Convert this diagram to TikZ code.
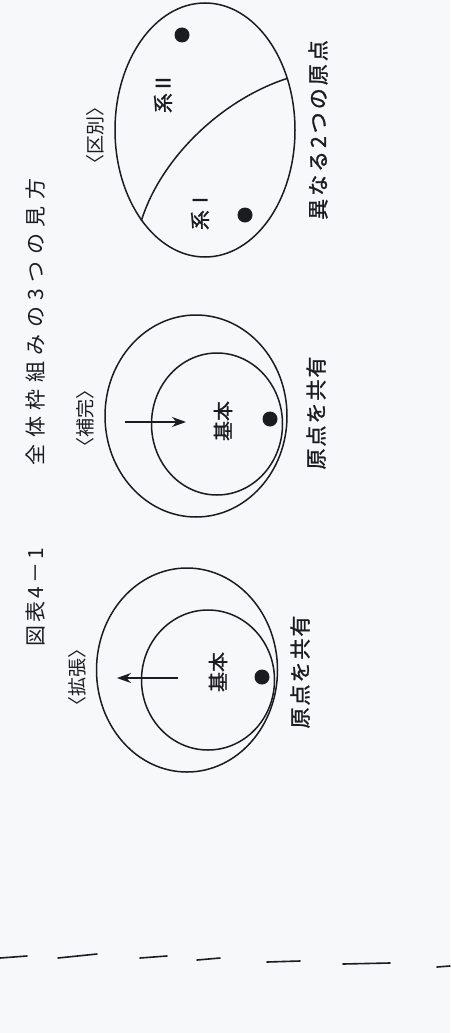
\documentclass[tikz,border=0pt]{standalone}
\usepackage{fontspec}
\setmainfont{Noto Sans CJK JP}
\newfontfamily\heavyjp[FakeBold=1.2]{Noto Sans CJK JP}
\usetikzlibrary{shapes.geometric,arrows.meta}
\definecolor{paper}{RGB}{247,248,250}
\definecolor{ink}{RGB}{28,28,32}
\makeatletter
\def\ltrsp#1#2{\def\ltrsp@k{\kern#1}\ltrsp@first#2\relax}
\def\ltrsp@first#1{#1\ltrsp@i}
\def\ltrsp@i#1{\ifx\relax#1\else\ltrsp@k#1\expandafter\ltrsp@i\fi}
\makeatother
\begin{document}
\begin{tikzpicture}[x=1pt,y=-1pt,
  txt/.style={rotate=90, inner sep=0pt, text=ink},
  ttl/.style={txt, font=\fontsize{21pt}{21pt}\selectfont},
  lbl/.style={txt, font=\fontsize{19pt}{19pt}\selectfont},
  captxt/.style={txt, font=\heavyjp\fontsize{21pt}{21pt}\selectfont},
  inn/.style={txt, font=\heavyjp\fontsize{20pt}{20pt}\selectfont},
  ring/.style={draw=ink, line width=1.5pt, ellipse, inner sep=0pt},
  dot/.style={circle, fill=ink, inner sep=0pt, minimum size=15pt},
  arr/.style={draw=ink, line width=1.5pt, -{Stealth[length=14pt,width=10pt]}},
  cutmark/.style={draw=ink, line width=1.6pt, line cap=round}]
\fill[paper] (0,0) rectangle (450,1033);
\useasboundingbox (0,0) rectangle (450,1033);

% title
\node[ttl] (t1) at (36,597) {\ltrsp{3pt}{図表4－1}};
\node[ttl] (t2) at (36,322) {\ltrsp{6.5pt}{全体枠組みの3つの見方}};

% ---- 区別 ----
\node[lbl] (l3) at (95,135) {〈区別〉};
\node[ring, minimum width=180pt, minimum height=254pt] (E3) at (205,130) {};
\draw[draw=ink, line width=1.5pt] (E3.235) .. controls (160,160) and (220,100) .. (E3.32);
\node[dot] (d1) at (182,35) {};
\node[dot] (d2) at (245,215) {};
\node[inn] (s2) at (163,93) {系Ⅱ};
\node[inn] (s1) at (200,210) {系Ⅰ};
\node[captxt] (c3) at (318,130) {\ltrsp{3pt}{異なる2つの原点}};

% ---- 補完 ----
\node[lbl] (l2) at (85,418) {〈補完〉};
\node[ring, minimum width=182pt, minimum height=202pt] (E2o) at (196,416) {};
\node[ring, minimum width=131pt, minimum height=142pt] (E2i) at (217,424) {};
\node[dot] (d3) at (270,419) {};
\node[inn] (k2) at (223,421) {基本};
\coordinate (a2s) at (125,422);
\coordinate (a2e) at (186,422);
\draw[arr] (a2s) -- (a2e);
\node[captxt] (c2) at (316,413) {\ltrsp{2pt}{原点を共有}};

% ---- 拡張 ----
\node[lbl] (l1) at (77,677) {〈拡張〉};
\node[ring, minimum width=181pt, minimum height=204pt] (E1o) at (187,670) {};
\node[ring, minimum width=133pt, minimum height=140pt] (E1i) at (208,680) {};
\node[dot] (d4) at (262,677) {};
\node[inn] (k1) at (218,672) {基本};
\coordinate (a1s) at (178,678);
\coordinate (a1e) at (117,678);
\draw[arr] (a1s) -- (a1e);
\node[captxt] (c1) at (300,672) {\ltrsp{2pt}{原点を共有}};

% ---- cut marks ----
\coordinate (m1a) at (0,958);   \coordinate (m1b) at (27,956);
\coordinate (m2a) at (58,958);  \coordinate (m2b) at (97,954);
\coordinate (m3a) at (140,958); \coordinate (m3b) at (167,956);
\coordinate (m4a) at (197,960); \coordinate (m4b) at (220,958);
\coordinate (m5a) at (267,962); \coordinate (m5b) at (300,961);
\coordinate (m6a) at (343,964); \coordinate (m6b) at (390,963);
\coordinate (m7a) at (437,967); \coordinate (m7b) at (450,966);
\foreach \i in {1,...,7} {\draw[cutmark] (m\i a) -- (m\i b);}
\end{tikzpicture}
\end{document}
